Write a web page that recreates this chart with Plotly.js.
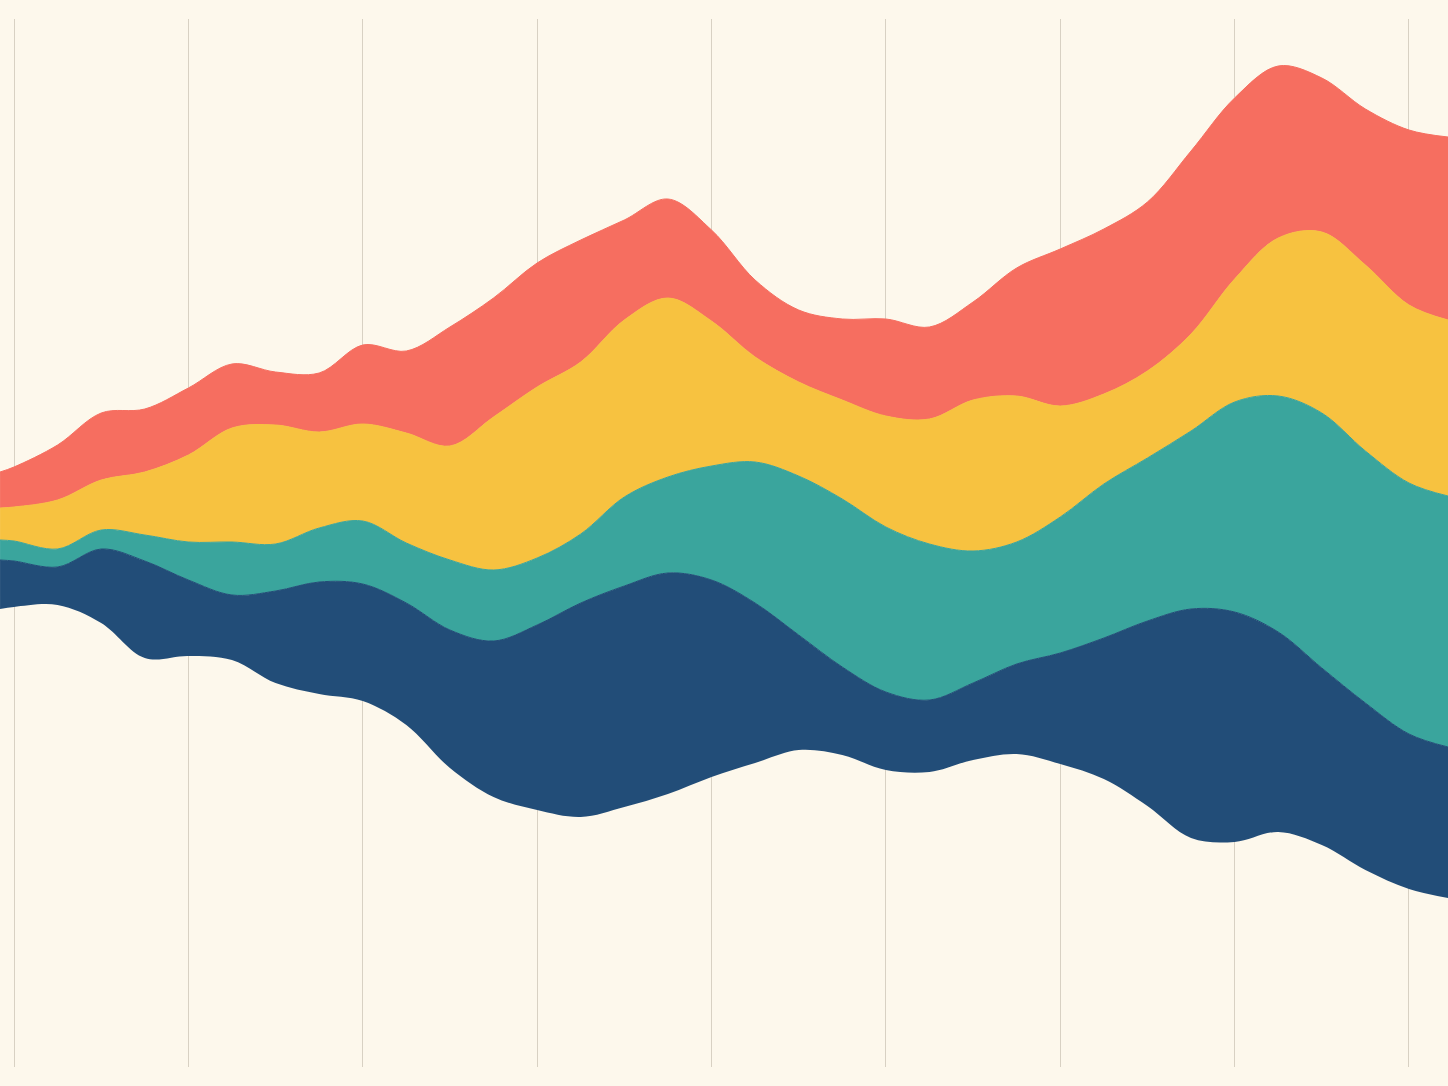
<!DOCTYPE html>
<html>
<head>
<meta charset="utf-8">
<script src="https://cdn.plot.ly/plotly-3.0.1.min.js"></script>
<style>
    html, body { margin: 0; padding: 0; background: #FDF8EC; }
    #stream-diagram { width: 1448px; height: 1086px; }
</style>
</head>
<body>
<div id="stream-diagram"></div>
<script>
// Positions along the x axis (grid lines sit on whole numbers)
let xData = [-0.08, 0, 0.25, 0.5, 0.75, 1, 1.25, 1.5, 1.75, 2, 2.25, 2.5, 2.75, 3, 3.25, 3.5, 3.75,
    4, 4.25, 4.5, 4.75, 5, 5.25, 5.5, 5.75, 6, 6.25, 6.5, 6.75, 7, 7.25, 7.5, 7.75, 8, 8.224];

// Wiggle offset of the stream (bottom edge)
let baseline = [-66, -64, -62, -80, -115, -113, -117, -140, -151, -158, -182, -225, -254, -267, -274, -264, -251,
    -234, -220, -207, -212, -227, -229, -217, -211, -221, -236, -263, -295, -299, -289, -302, -327, -346, -355];

// Thickness of every layer, bottom to top
let navyValues = [49, 46, 38, 74, 97, 76, 65, 92, 112, 117, 122, 138, 156, 185, 214, 221, 221,
    197, 160, 115, 88, 78, 72, 77, 90, 111, 141, 185, 229, 230, 200, 177, 167, 155, 151];
let tealValues = [20, 20, 18, 19, 26, 38, 53, 47, 54, 63, 60, 70, 71, 67, 69, 89, 96,
    114, 141, 159, 168, 165, 156, 132, 122, 136, 154, 163, 178, 210, 236, 255, 252, 251, 251];
let yellowValues = [32, 34, 49, 50, 63, 87, 114, 119, 96, 97, 110, 114, 153, 171, 172, 177, 179,
    145, 105, 94, 99, 111, 125, 151, 146, 111, 90, 87, 97, 123, 158, 181, 186, 178, 176];
let redValues = [36, 40, 55, 67, 63, 67, 64, 53, 59, 79, 82, 119, 119, 124, 122, 100, 99,
    91, 77, 72, 81, 97, 92, 98, 128, 157, 165, 169, 183, 181, 172, 154, 156, 175, 183];

const COLOR_NAVY = '#224D78';
const COLOR_TEAL = '#3AA59D';
const COLOR_YELLOW = '#F7C240';
const COLOR_RED = '#F66E60';

/**
 * Create streamgraph
 */
function createStreamDiagram() {
    let layers = [
        {name: 'Navy', values: navyValues, color: COLOR_NAVY},
        {name: 'Teal', values: tealValues, color: COLOR_TEAL},
        {name: 'Yellow', values: yellowValues, color: COLOR_YELLOW},
        {name: 'Red', values: redValues, color: COLOR_RED}
    ];

    // Invisible baseline the first layer fills up from
    let data = [{
        x: xData,
        y: baseline.slice(),
        mode: 'lines',
        line: {width: 0, shape: 'spline', smoothing: 1},
        hoverinfo: 'skip',
        showlegend: false
    }];

    let running = baseline.slice();
    for(let i in layers) {
        running = running.map((v, k) => v + layers[i].values[k]);
        data.push({
            x: xData,
            y: running.slice(),
            name: layers[i].name,
            mode: 'lines',
            fill: 'tonexty',
            fillcolor: layers[i].color,
            line: {
                color: layers[i].color,
                width: 1,
                shape: 'spline',
                smoothing: 1
            },
            hoverinfo: 'skip'
        });
    }

    // Layout of the chart
    let layout = {
        width: 1448,
        height: 1086,
        showlegend: false,
        paper_bgcolor: '#FDF8EC',
        plot_bgcolor: '#FDF8EC',
        xaxis: {
            range: [-0.0803, 8.2237],
            tick0: 0,
            dtick: 1,
            showgrid: true,
            gridcolor: '#D8D1C3',
            gridwidth: 1,
            zeroline: false,
            showline: false,
            showticklabels: false,
            ticks: ''
        },
        yaxis: {
            range: [-524, 524],
            showgrid: false,
            zeroline: false,
            showline: false,
            showticklabels: false
        },
        margin: {
            l: 0,
            r: 0,
            t: 19,
            b: 19
        }
    }

    // General chart configuration
    let config = {
        displayModeBar: false,
        staticPlot: true
    }

    let htmlElement = document.getElementById('stream-diagram');
    htmlElement.innerHTML = '';
    Plotly.newPlot(htmlElement, data, layout, config);
}

createStreamDiagram();
</script>
</body>
</html>
